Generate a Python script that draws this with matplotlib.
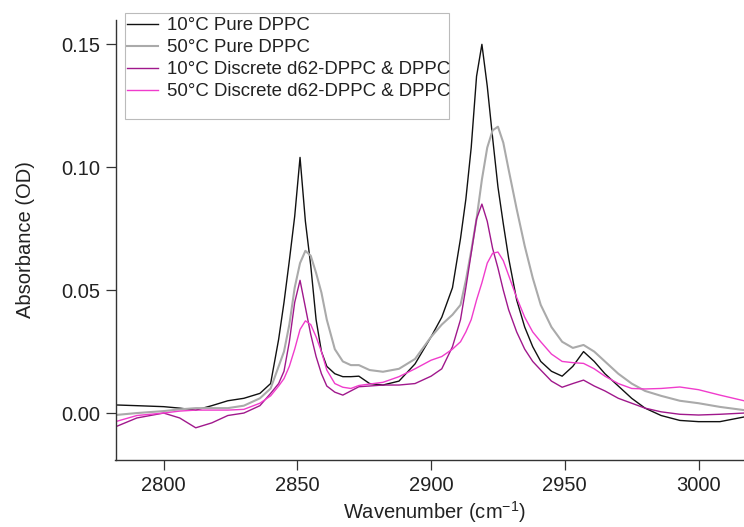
import matplotlib
matplotlib.use("Agg")
import matplotlib.pyplot as plt
from matplotlib.patches import Rectangle

plt.rcParams['font.family'] = ['Liberation Sans', 'DejaVu Sans']
plt.rcParams['mathtext.fontset'] = 'custom'
plt.rcParams['mathtext.rm'] = 'Liberation Sans'

wavenumber = [2782, 2790, 2800, 2806, 2812, 2818, 2824, 2830, 2836, 2840, 2843, 2845, 2847, 2849,
              2851, 2853, 2855, 2857, 2859, 2861, 2864, 2867, 2870, 2873, 2877, 2882, 2888, 2894,
              2900, 2904, 2908, 2911, 2913, 2915, 2917, 2919, 2921, 2923, 2925, 2927, 2929, 2932,
              2935, 2938, 2941, 2945, 2949, 2953, 2957, 2961, 2965, 2970, 2975, 2980, 2986, 2993,
              3000, 3008, 3017]

pure_10C = [0.0033, 0.0030, 0.0026, 0.0020, 0.0012, 0.0030, 0.0050, 0.0060, 0.0080, 0.0120, 0.0300,
            0.0450, 0.0620, 0.0800, 0.1040, 0.0780, 0.0600, 0.0380, 0.0250, 0.0190, 0.0160, 0.0148,
            0.0148, 0.0150, 0.0120, 0.0114, 0.0130, 0.0200, 0.0310, 0.0390, 0.0510, 0.0710, 0.0870,
            0.1080, 0.1370, 0.1500, 0.1330, 0.1120, 0.0920, 0.0770, 0.0630, 0.0460, 0.0350, 0.0270,
            0.0210, 0.0170, 0.0150, 0.0190, 0.0250, 0.0210, 0.0160, 0.0110, 0.0060, 0.0020, -0.0010,
            -0.0030, -0.0035, -0.0035, -0.0016]

pure_50C = [-0.0008, 0.0000, 0.0008, 0.0015, 0.0020, 0.0020, 0.0020, 0.0030, 0.0060, 0.0100, 0.0190,
            0.0250, 0.0360, 0.0510, 0.0610, 0.0660, 0.0640, 0.0570, 0.0490, 0.0380, 0.0260, 0.0210,
            0.0195, 0.0195, 0.0175, 0.0168, 0.0180, 0.0220, 0.0310, 0.0360, 0.0400, 0.0440, 0.0540,
            0.0660, 0.0790, 0.0950, 0.1080, 0.1150, 0.1165, 0.1100, 0.0990, 0.0830, 0.0680, 0.0550,
            0.0440, 0.0350, 0.0290, 0.0265, 0.0277, 0.0250, 0.0210, 0.0160, 0.0120, 0.0090, 0.0070,
            0.0050, 0.0040, 0.0025, 0.0012]

discrete_10C = [-0.0056, -0.0020, 0.0000, -0.0020, -0.0060, -0.0040, -0.0010, 0.0000, 0.0030, 0.0080,
                0.0120, 0.0170, 0.0290, 0.0450, 0.0540, 0.0430, 0.0320, 0.0230, 0.0160, 0.0110, 0.0085,
                0.0073, 0.0090, 0.0107, 0.0110, 0.0114, 0.0114, 0.0120, 0.0150, 0.0180, 0.0270, 0.0380,
                0.0510, 0.0650, 0.0790, 0.0850, 0.0780, 0.0670, 0.0590, 0.0500, 0.0420, 0.0330, 0.0260,
                0.0210, 0.0175, 0.0130, 0.0105, 0.0120, 0.0134, 0.0110, 0.0090, 0.0060, 0.0040, 0.0020,
                0.0005, -0.0005, -0.0008, -0.0005, 0.0000]

discrete_50C = [-0.0035, -0.0010, 0.0000, 0.0008, 0.0012, 0.0012, 0.0012, 0.0015, 0.0040, 0.0070,
                0.0110, 0.0140, 0.0190, 0.0260, 0.0340, 0.0375, 0.0360, 0.0310, 0.0250, 0.0175, 0.0120,
                0.0105, 0.0100, 0.0112, 0.0118, 0.0125, 0.0148, 0.0180, 0.0215, 0.0230, 0.0260, 0.0290,
                0.0330, 0.0380, 0.0460, 0.0530, 0.0610, 0.0650, 0.0655, 0.0620, 0.0560, 0.0470, 0.0390,
                0.0330, 0.0290, 0.0240, 0.0210, 0.0205, 0.0202, 0.0180, 0.0150, 0.0120, 0.0100, 0.0098,
                0.0100, 0.0106, 0.0095, 0.0073, 0.0050]

labels = ['10°C Pure DPPC', '50°C Pure DPPC',
          '10°C Discrete d62-DPPC & DPPC', '50°C Discrete d62-DPPC & DPPC']
colors = ['#111111', '#aaaaaa', '#a0188c', '#f03ccc']
widths = [1.0, 1.5, 1.0, 1.0]
series = [pure_10C, pure_50C, discrete_10C, discrete_50C]

fig = plt.figure(figsize=(7.44, 5.27), dpi=100)
ax = fig.add_axes([115.5 / 744, 1 - 460 / 527, 1 - 115.5 / 744, (460 - 20) / 527])

handles = []
for ys, lab, c, lw in zip(series, labels, colors, widths):
    h, = ax.plot(wavenumber, ys, color=c, lw=lw, label=lab)
    handles.append(h)

ax.set_xlim(2782, 3017)
ax.set_ylim(-0.0191, 0.1599)
ax.set_xticks([2800, 2850, 2900, 2950, 3000])
ax.set_yticks([0.00, 0.05, 0.10, 0.15])
ax.set_yticklabels(['0.00', '0.05', '0.10', '0.15'])
for s in ['top', 'right']:
    ax.spines[s].set_visible(False)
for s in ['left', 'bottom']:
    ax.spines[s].set_color('#333333')
    ax.spines[s].set_linewidth(1.0)
ax.tick_params(direction='out', length=7.5, width=0.9, color='#333333',
               labelsize=14.5, labelcolor='#222222')
ax.tick_params(axis='y', pad=3.5)
ax.tick_params(axis='x', pad=4)
ax.set_xlabel('Wavenumber (cm$^{-1}$)', fontsize=14.5, color='#222222')
ax.set_ylabel('Absorbance (OD)', fontsize=14.5, color='#222222')
ax.xaxis.set_label_coords(0.507, -0.088)
ax.yaxis.set_label_coords(-0.128, 0.5)

fig.patches.append(Rectangle((124.7 / 744, 1 - 119 / 527), (449 - 124.7) / 744, (119 - 12.7) / 527,
                             transform=fig.transFigure, fill=True, facecolor='white',
                             edgecolor='#bbbbbb', lw=0.8, zorder=5))
leg = fig.legend(handles=handles, labels=labels, loc='upper left',
                 bbox_to_anchor=(127 / 744, 1 - 17.0 / 527), frameon=False,
                 fontsize=13.4, borderpad=0, borderaxespad=0, handlelength=1.67,
                 handletextpad=0.47, labelspacing=0.27)
leg.set_zorder(6)
for t in leg.get_texts():
    t.set_color('#222222')

fig.savefig('out.png', dpi=100)
